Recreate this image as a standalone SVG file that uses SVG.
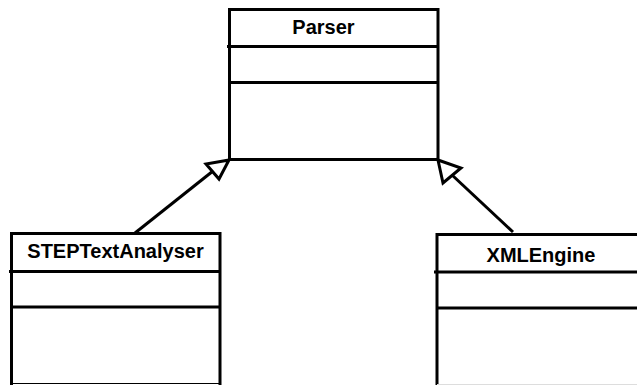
<svg xmlns="http://www.w3.org/2000/svg" width="637" height="385" viewBox="0 0 637 385">
<style>
.b{fill:none;stroke:#000;stroke-width:3}
.t{font-family:"Liberation Sans",Arial,sans-serif;font-weight:bold;font-size:20px;fill:#000}
.c{fill:none;stroke:#000;stroke-width:3}
.h{fill:#fff;stroke:#000;stroke-width:3;stroke-linejoin:miter}
</style>
<rect width="637" height="385" fill="#fff"/>
<g id="parser">
<path class="b" d="M229.5 9.5H438V159.5H229.5Z"/>
<path class="b" d="M227 46.5H438M229.5 82.5H438"/>
<text class="t" x="323.5" y="34" text-anchor="middle">Parser</text>
</g>
<g id="steptextanalyser">
<path class="b" d="M11.5 385V233.5H220V385"/>
<path class="b" d="M9 271.5H220M11.5 307H220"/>
<path d="M11 383.5H220" stroke="#000" stroke-width="1"/>
<text class="t" x="115.5" y="258" text-anchor="middle">STEPTextAnalyser</text>
</g>
<g id="xmlengine">
<path class="b" d="M437 385V234.5H637"/>
<path class="b" d="M434 272H637M437 308H637"/>
<path d="M437 384.5H637" stroke="#ddd" stroke-width="1"/>
<text class="t" x="541" y="262" text-anchor="middle">XMLEngine</text>
</g>
<g id="connectors">
<path class="c" d="M135 233L213 171"/>
<path class="h" d="M229 160L206 164L219 179Z"/>
<path class="c" d="M513 232L452 175"/>
<path class="h" d="M438 160L461 168L443 183Z"/>
</g>
</svg>
